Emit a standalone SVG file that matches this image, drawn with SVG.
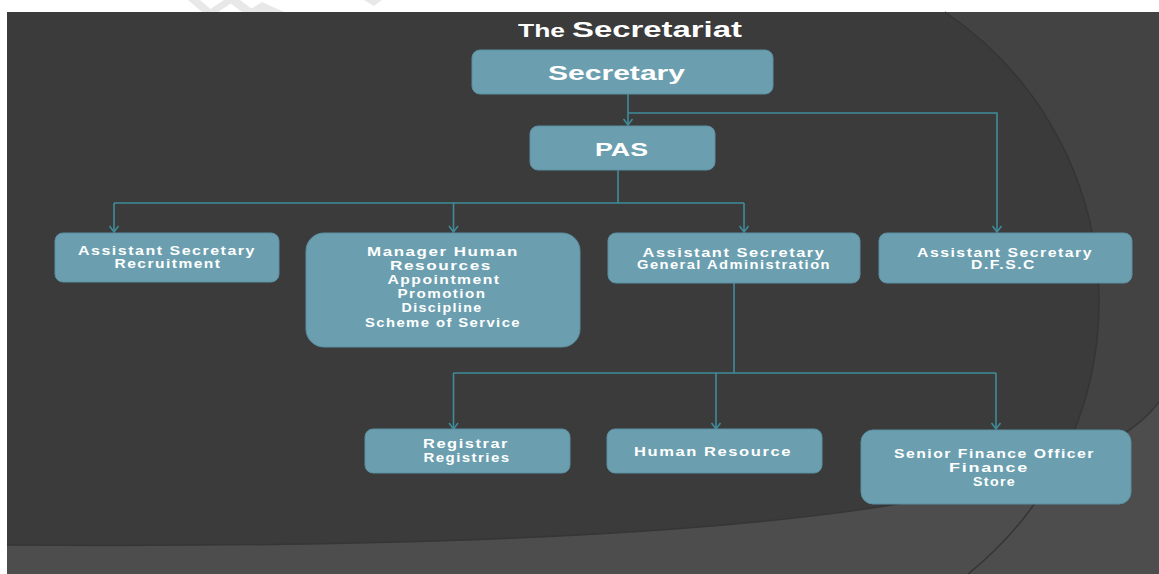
<svg xmlns="http://www.w3.org/2000/svg" width="1159" height="574" viewBox="0 0 1159 574">
<style>
.box{fill:#6b9fb0;stroke:#5a90a2;stroke-width:1}
.t{font-family:"Liberation Sans",Arial,sans-serif;font-weight:bold;fill:#ffffff;text-anchor:middle}
.s{font-size:12.5px;letter-spacing:1.2px}
.c{fill:none;stroke:#3f8d9b;stroke-width:1.6}
</style>
<defs>
<marker id="arr" markerUnits="userSpaceOnUse" markerWidth="12" markerHeight="12" viewBox="-8 -6 10 12" refX="0" refY="0" orient="auto">
<path d="M-6,-4.5 L0,0 L-6,4.5" fill="none" stroke="#3f8d9b" stroke-width="1.5"/>
</marker>
</defs>
<rect x="0" y="0" width="1159" height="574" fill="#ffffff"/>
<g id="watermark" fill="#e8e8e8">
<polygon points="188,0 200,0 214,12 202,12"/>
<polygon points="206,12 224,0 236,0 218,12"/>
<polygon points="226,0 240,0 256,12 242,12"/>
<polygon points="246,12 262,2 284,12"/>
<polygon points="364,0 382,0 374,6"/>
</g>
<g id="background">
<rect x="7" y="12" width="1152" height="562" fill="#3b3b3b"/>
<path d="M945,12 A349,349 0 0 1 968,574 L1159,574 L1159,12 Z" fill="#434343"/>
<path d="M7,545 C700,550 1080,510 1159,402 L1159,574 L7,574 Z" fill="#4d4d4d"/>
<path d="M7,545 C700,550 1080,510 1159,402" fill="none" stroke="#363636" stroke-width="1.5"/>
<path d="M945,12 A349,349 0 0 1 968,574" fill="none" stroke="#353535" stroke-width="1.5"/>
</g>
<g id="title">
<text class="t" x="518" y="37" style="font-size:18.5px;text-anchor:start" textLength="47" lengthAdjust="spacingAndGlyphs">The</text>
<text class="t" x="572" y="37" style="font-size:22.5px;text-anchor:start" textLength="170" lengthAdjust="spacingAndGlyphs">Secretariat</text>
</g>
<g id="connectors">
<path class="c" d="M628,94 V125" marker-end="url(#arr)"/>
<path class="c" d="M628,113 H997 V232" marker-end="url(#arr)"/>
<path class="c" d="M618,170 V203"/>
<path class="c" d="M114,203 H744"/>
<path class="c" d="M114,203 V232" marker-end="url(#arr)"/>
<path class="c" d="M453.5,203 V232" marker-end="url(#arr)"/>
<path class="c" d="M744,203 V232" marker-end="url(#arr)"/>
<path class="c" d="M734,283 V373"/>
<path class="c" d="M453.5,373 H996"/>
<path class="c" d="M453.5,373 V429" marker-end="url(#arr)"/>
<path class="c" d="M716,373 V429" marker-end="url(#arr)"/>
<path class="c" d="M996,373 V429" marker-end="url(#arr)"/>
</g>
<g id="secretary">
<rect class="box" x="472" y="50" width="301" height="44" rx="8"/>
<text class="t" x="616.5" y="80" style="font-size:19.5px" textLength="137" lengthAdjust="spacingAndGlyphs">Secretary</text>
</g>
<g id="pas">
<rect class="box" x="530" y="126" width="185" height="44" rx="8"/>
<text class="t" x="621.5" y="156" style="font-size:18px" textLength="53" lengthAdjust="spacingAndGlyphs">PAS</text>
</g>
<g id="recruitment">
<rect class="box" x="55" y="233" width="224" height="49" rx="8"/>
<text class="t s" x="167" y="255" textLength="178" lengthAdjust="spacingAndGlyphs">Assistant Secretary</text>
<text class="t s" x="168" y="268" textLength="107" lengthAdjust="spacingAndGlyphs">Recruitment</text>
</g>
<g id="manager-hr">
<rect class="box" x="306" y="233" width="274" height="114" rx="18"/>
<text class="t s" x="443" y="256" style="font-size:13px" textLength="152" lengthAdjust="spacingAndGlyphs">Manager Human</text>
<text class="t s" x="441" y="270" style="font-size:13px" textLength="102" lengthAdjust="spacingAndGlyphs">Resources</text>
<text class="t s" x="444" y="284" textLength="113" lengthAdjust="spacingAndGlyphs">Appointment</text>
<text class="t s" x="442" y="298" textLength="89" lengthAdjust="spacingAndGlyphs">Promotion</text>
<text class="t s" x="442" y="312" textLength="81" lengthAdjust="spacingAndGlyphs">Discipline</text>
<text class="t s" x="443" y="327" textLength="156" lengthAdjust="spacingAndGlyphs">Scheme of Service</text>
</g>
<g id="general-admin">
<rect class="box" x="608" y="233" width="252" height="50" rx="8"/>
<text class="t s" x="734" y="257" textLength="183" lengthAdjust="spacingAndGlyphs">Assistant  Secretary</text>
<text class="t s" x="734" y="269" style="font-size:12px" textLength="194" lengthAdjust="spacingAndGlyphs">General Administration</text>
</g>
<g id="dfsc">
<rect class="box" x="879" y="233" width="253" height="50" rx="8"/>
<text class="t s" x="1005" y="257" textLength="176" lengthAdjust="spacingAndGlyphs">Assistant Secretary</text>
<text class="t s" x="1003.5" y="269" style="font-size:12px" textLength="65" lengthAdjust="spacingAndGlyphs">D.F.S.C</text>
</g>
<g id="registrar">
<rect class="box" x="365" y="429" width="205" height="44" rx="8"/>
<text class="t s" x="466" y="448" textLength="86" lengthAdjust="spacingAndGlyphs">Registrar</text>
<text class="t s" x="467" y="462" textLength="87" lengthAdjust="spacingAndGlyphs">Registries</text>
</g>
<g id="human-resource">
<rect class="box" x="607" y="429" width="215" height="44" rx="8"/>
<text class="t s" x="713" y="456" textLength="158" lengthAdjust="spacingAndGlyphs">Human Resource</text>
</g>
<g id="senior-finance">
<rect class="box" x="861" y="430" width="270" height="74" rx="12"/>
<text class="t s" x="994.5" y="458" textLength="201" lengthAdjust="spacingAndGlyphs">Senior Finance Officer</text>
<text class="t s" x="989" y="472" textLength="80" lengthAdjust="spacingAndGlyphs">Finance</text>
<text class="t s" x="994.5" y="486" textLength="43" lengthAdjust="spacingAndGlyphs">Store</text>
</g>
</svg>
